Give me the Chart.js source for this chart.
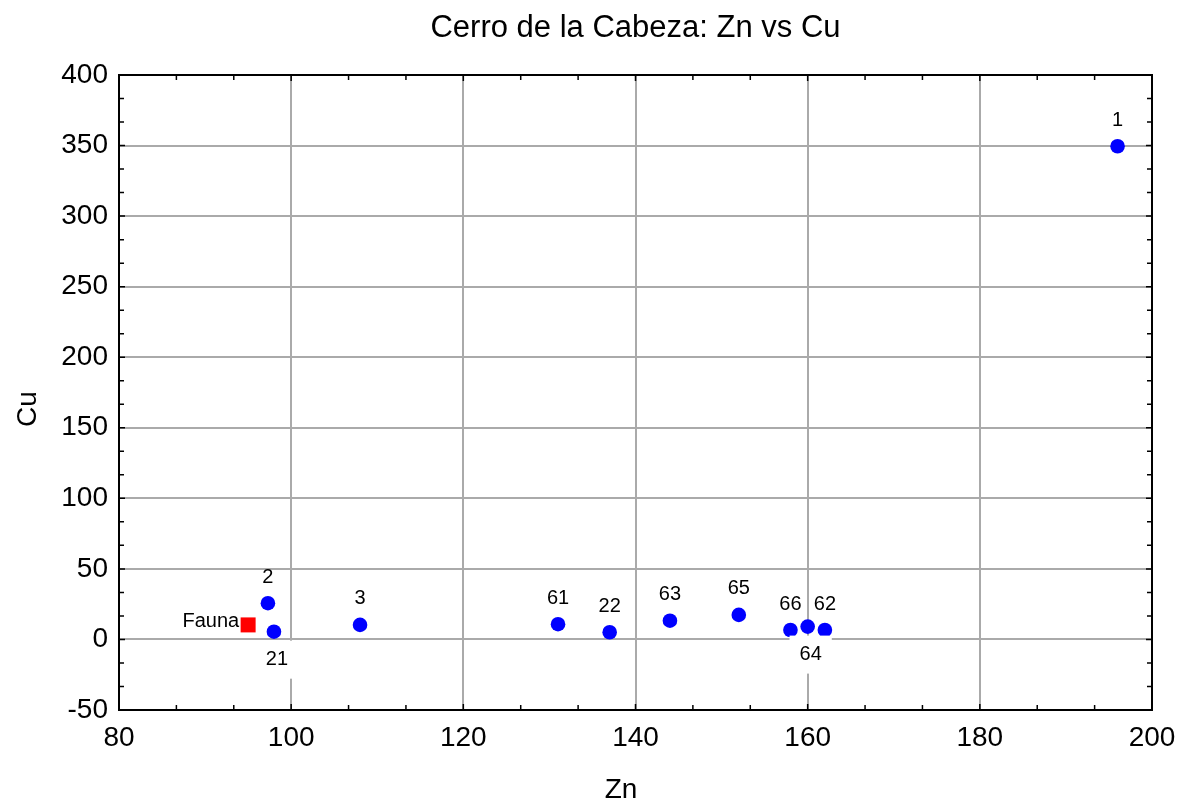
<!DOCTYPE html>
<html>
<head>
<meta charset="utf-8">
<script src="https://cdn.jsdelivr.net/npm/chart.js@4"></script>
<style>
  body { margin: 0; background: #fff; }
</style>
</head>
<body>
<canvas id="chart" width="1181" height="803"></canvas>
<script>
const sampleNames = ['1', '2', '21', '3', '61', '22', '63', '65', '66', '64', '62'];
const sampleZn = [196, 97.3, 98, 108, 131, 137, 144, 152, 158, 160, 162];
const sampleCu = [349.5, 25.7, 5.5, 10.3, 10.8, 5.1, 13.3, 17.4, 6.7, 9.1, 6.7];

const faunaNames = ['Fauna'];
const faunaZn = [95];
const faunaCu = [10.3];

const xTicks = [80, 100, 120, 140, 160, 180, 200];
const yTicks = [-50, 0, 50, 100, 150, 200, 250, 300, 350, 400];

const FONT = 'Liberation Sans, Arial, sans-serif';

// where each point label goes relative to its marker
const labelSide = { '21': 'below', '64': 'below', 'Fauna': 'left' };

const framePlugin = {
  id: 'frame',
  afterDatasetsDraw(chart) {
    const { ctx, chartArea: a, scales } = chart;
    ctx.save();
    // inward ticks on all four sides, two minor ticks per interval
    ctx.strokeStyle = '#000';
    ctx.lineWidth = 1.5;
    ctx.beginPath();
    for (let i = 0; i < xTicks.length - 1; i++) {
      const step = (xTicks[i + 1] - xTicks[i]) / 3;
      for (let k = 0; k < 3; k++) {
        const px = scales.x.getPixelForValue(xTicks[i] + k * step);
        const len = k === 0 ? 6 : 5;
        ctx.moveTo(px, a.bottom); ctx.lineTo(px, a.bottom - len);
        ctx.moveTo(px, a.top); ctx.lineTo(px, a.top + len);
      }
    }
    for (let i = 0; i < yTicks.length - 1; i++) {
      const step = (yTicks[i + 1] - yTicks[i]) / 3;
      for (let k = 0; k < 3; k++) {
        const py = scales.y.getPixelForValue(yTicks[i] + k * step);
        const len = k === 0 ? 6 : 5;
        ctx.moveTo(a.left, py); ctx.lineTo(a.left + len, py);
        ctx.moveTo(a.right, py); ctx.lineTo(a.right - len, py);
      }
    }
    ctx.stroke();
    ctx.lineWidth = 2;
    ctx.strokeRect(a.left, a.top, a.right - a.left, a.bottom - a.top);

    // point labels
    ctx.font = '20px ' + FONT;
    ctx.fillStyle = '#000';
    ctx.textBaseline = 'middle';
    chart.data.datasets.forEach((ds, di) => {
      const meta = chart.getDatasetMeta(di);
      meta.data.forEach((pt, i) => {
        const name = ds.names[i];
        const side = labelSide[name] || 'above';
        if (side === 'left') {
          ctx.textAlign = 'right';
          ctx.fillText(name, pt.x - 9, pt.y - 3);
        } else if (side === 'below') {
          const w = ctx.measureText(name).width + 20;
          ctx.fillStyle = '#fff';
          ctx.fillRect(pt.x + 3 - w / 2, pt.y + 9, w, 38);
          ctx.fillStyle = '#000';
          ctx.textAlign = 'center';
          ctx.fillText(name, pt.x + 3, pt.y + 28);
        } else {
          ctx.textAlign = 'center';
          ctx.fillText(name, pt.x, pt.y - 26);
        }
      });
    });

    // titles
    ctx.font = '31px ' + FONT;
    ctx.textAlign = 'center';
    ctx.textBaseline = 'alphabetic';
    ctx.fillText('Cerro de la Cabeza: Zn vs Cu', (a.left + a.right) / 2, 37);
    ctx.font = '28px ' + FONT;
    ctx.fillText('Zn', 621, 798);
    ctx.translate(36, 409);
    ctx.rotate(-Math.PI / 2);
    ctx.fillText('Cu', 0, 0);
    ctx.restore();
  }
};

new Chart(document.getElementById('chart'), {
  type: 'scatter',
  data: {
    datasets: [
      {
        label: 'Samples',
        names: sampleNames,
        data: sampleZn.map((x, i) => ({ x, y: sampleCu[i] })),
        backgroundColor: '#0000ff',
        borderWidth: 0,
        pointRadius: 7.3,
        pointStyle: 'circle',
      },
      {
        label: 'Fauna',
        names: faunaNames,
        data: faunaZn.map((x, i) => ({ x, y: faunaCu[i] })),
        backgroundColor: '#ff0000',
        borderWidth: 0,
        pointRadius: 10.6,
        pointStyle: 'rect',
      },
    ],
  },
  options: {
    responsive: false,
    animation: false,
    layout: { padding: { left: 0, right: 29, top: 75, bottom: 0 } },
    scales: {
      x: {
        type: 'linear',
        min: 80,
        max: 200,
        afterBuildTicks: s => { s.ticks = xTicks.map(v => ({ value: v })); },
        afterFit: s => { s.height = 93; s.paddingLeft = 0; s.paddingRight = 0; },
        ticks: { color: '#000', font: { family: FONT, size: 28 }, padding: 11, maxRotation: 0 },
        grid: { color: '#aaaaaa', lineWidth: 2, drawTicks: false },
        border: { display: false },
      },
      y: {
        type: 'linear',
        min: -50,
        max: 400,
        afterBuildTicks: s => { s.ticks = yTicks.map(v => ({ value: v })); },
        afterFit: s => { s.width = 119; s.paddingTop = 0; s.paddingBottom = 0; },
        ticks: { color: '#000', font: { family: FONT, size: 28 }, padding: 11 },
        grid: { color: '#aaaaaa', lineWidth: 2, drawTicks: false },
        border: { display: false },
      },
    },
    plugins: {
      legend: { display: false },
      tooltip: { enabled: false },
      title: { display: false },
    },
  },
  plugins: [framePlugin],
});
</script>
</body>
</html>
